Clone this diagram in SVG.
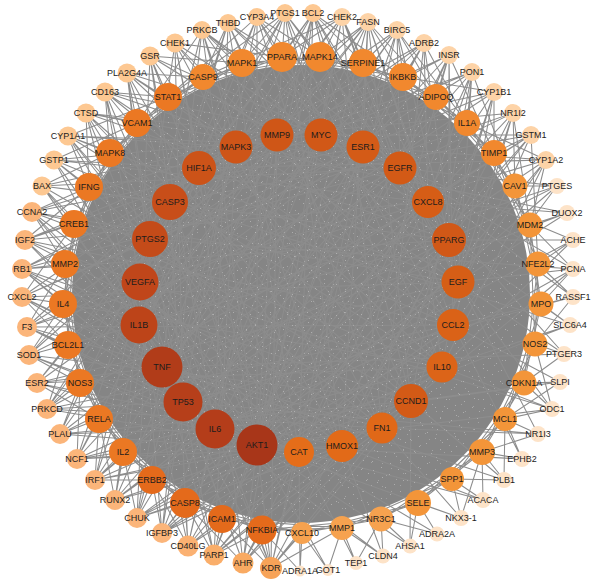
<svg xmlns="http://www.w3.org/2000/svg" width="600" height="584" viewBox="0 0 600 584">
<style>
.e{fill:none;stroke:#8d8d8d;stroke-width:1.05;stroke-linejoin:bevel}
text{font-family:"Liberation Sans",Arial,Helvetica,sans-serif;font-size:9px;fill:#1c1c1c;text-anchor:middle}
.o1{fill:#fbb57a}.o2{fill:#fdc892}.o2b{fill:#fdd3a7}.o3{fill:#fde3c8}
.m1{fill:#e46a1b}.m2{fill:#eb7823}.m3{fill:#f1882e}.m4{fill:#f39539}.m5{fill:#f6a24f}
</style>
<defs>
<pattern id="sp1" width="37" height="31" patternUnits="userSpaceOnUse"><path d="M3 5h1v1h-1zM11 2h1v1h-1zM19 9h1v1h-1zM28 4h1v1h-1zM33 15h1v1h-1zM7 17h1v1h-1zM15 22h1v1h-1zM24 19h1v1h-1zM30 26h1v1h-1zM2 27h1v1h-1zM20 29h1v1h-1zM12 12h1v1h-1zM35 8h1v1h-1z" fill="#c8c8c8"/></pattern>
<pattern id="sp2" width="29" height="23" patternUnits="userSpaceOnUse"><path d="M5 3h1v1h-1zM14 8h1v1h-1zM23 2h1v1h-1zM9 15h1v1h-1zM19 19h1v1h-1zM26 13h1v1h-1zM1 20h1v1h-1z" fill="#c0c0c0"/></pattern>
</defs>
<rect width="600" height="584" fill="#ffffff"/>
<circle cx="301" cy="294" r="229" fill="#858585"/>
<g id="edges" class="e">
<path d="M282 57L363 63 436 97 494 153 530 225 541 304 524 383 482 452 418 503 342 528 262 530 185 503 123 452 80 383 63 304 74 224 110 153 168 97 242 63 320 57 403 77 467 123 515 186 538 264 535 344 505 419 452 479 381 519 302 533 222 519 152 480 99 419 68 345 65 264 89 187 137 123 203 77 282 57"/>
<path d="M282 57L403 77 494 153 538 264 524 383 452 479 342 528 222 519 123 452 68 345 74 224 137 123 242 63 363 63 467 123 530 225 535 344 482 452 381 519 262 530 152 480 80 383 65 264 110 153 203 77 320 57 436 97 515 186 541 304 505 419 418 503 302 533 185 503 99 419 63 304 89 187 168 97 282 57"/>
<path d="M285 13L257 445 285 13 162 367 285 13 140 282 285 13 170 202 285 13 321 135 285 13 400 168 285 13 449 240 285 13 442 367 285 13 342 446 285 13 242 63 285 13 320 57 285 13 168 97"/>
<path d="M313 13L257 445 313 13 215 429 313 13 139 325 313 13 150 239 313 13 199 168 313 13 277 135 313 13 363 147 313 13 428 202 313 13 458 282 313 13 411 401 313 13 299 452 313 13 282 57 313 13 363 63 313 13 403 77"/>
<path d="M342 17L257 445 342 17 162 367 342 17 140 282 342 17 236 147 342 17 321 135 342 17 400 168 342 17 449 240 342 17 453 325 342 17 382 428 342 17 282 57 342 17 363 63 342 17 203 77"/>
<path d="M368 22L257 445 368 22 183 402 368 22 139 325 368 22 170 202 368 22 277 135 368 22 363 147 368 22 428 202 368 22 458 282 368 22 411 401 368 22 342 446 368 22 320 57 368 22 403 77 368 22 436 97"/>
<path d="M397 30L257 445 397 30 162 367 397 30 140 282 397 30 199 168 397 30 321 135 397 30 400 168 397 30 449 240 397 30 442 367 397 30 299 452 397 30 363 63 397 30 436 97 397 30 467 123"/>
<path d="M424 43L215 429 424 43 139 325 424 43 150 239 424 43 236 147 424 43 363 147 424 43 428 202 424 43 458 282 424 43 382 428 424 43 403 77 424 43 467 123"/>
<path d="M449 55L257 445 449 55 162 367 449 55 170 202 449 55 277 135 449 55 400 168 449 55 449 240 449 55 453 325 449 55 342 446 449 55 436 97 449 55 494 153"/>
<path d="M472 72L183 402 472 72 140 282 472 72 199 168 472 72 321 135 472 72 428 202 472 72 458 282 472 72 411 401 472 72 299 452 472 72 467 123 472 72 515 186"/>
<path d="M494 92L257 445 494 92 139 325 494 92 236 147 494 92 363 147 494 92 449 240 494 92 442 367 494 92 382 428 494 92 494 153 494 92 403 77"/>
<path d="M513 113L215 429 513 113 150 239 513 113 277 135 513 113 400 168 513 113 458 282 513 113 453 325 513 113 342 446 513 113 515 186 513 113 530 225"/>
<path d="M531 135L257 445 531 135 162 367 531 135 170 202 531 135 321 135 531 135 428 202 531 135 449 240 531 135 411 401 531 135 494 153 531 135 538 264"/>
<path d="M546 160L183 402 546 160 140 282 546 160 199 168 546 160 363 147 546 160 458 282 546 160 442 367 546 160 299 452 546 160 530 225 546 160 467 123"/>
<path d="M557 186L257 445 557 186 139 325 557 186 400 168 557 186 449 240 557 186 453 325 557 186 515 186"/>
<path d="M567 213L162 367 567 213 236 147 567 213 428 202 567 213 458 282 567 213 530 225"/>
<path d="M573 240L215 429 573 240 321 135 573 240 449 240 573 240 442 367 573 240 538 264"/>
<path d="M573 269L257 445 573 269 150 239 573 269 363 147 573 269 458 282 573 269 411 401 573 269 541 304 573 269 530 225"/>
<path d="M573 297L183 402 573 297 400 168 573 297 453 325 573 297 538 264 573 297 535 344"/>
<path d="M570 325L257 445 570 325 170 202 570 325 449 240 570 325 442 367 570 325 541 304"/>
<path d="M564 354L162 367 564 354 428 202 564 354 458 282 564 354 535 344 564 354 524 383"/>
<path d="M560 382L215 429 560 382 453 325 560 382 411 401 560 382 524 383 560 382 505 419"/>
<path d="M552 409L257 445 552 409 140 282 552 409 458 282 552 409 442 367 552 409 505 419 552 409 524 383 552 409 535 344"/>
<path d="M538 434L183 402 538 434 400 168 538 434 382 428 538 434 505 419 538 434 482 452"/>
<path d="M522 459L257 445 522 459 453 325 522 459 482 452 522 459 505 419"/>
<path d="M504 480L162 367 504 480 411 401 504 480 482 452 504 480 452 479 504 480 505 419"/>
<path d="M483 500L215 429 483 500 342 446 483 500 452 479 483 500 482 452"/>
<path d="M461 518L257 445 461 518 382 428 461 518 418 503 461 518 452 479 461 518 482 452"/>
<path d="M437 534L299 452 437 534 418 503 437 534 381 519"/>
<path d="M410 546L257 445 410 546 411 401 410 546 418 503 410 546 381 519"/>
<path d="M383 556L215 429 383 556 342 446 383 556 381 519 383 556 342 528"/>
<path d="M356 563L299 452 356 563 342 528 356 563 381 519"/>
<path d="M328 570L342 528 328 570 302 533 328 570 257 445"/>
<path d="M300 571L302 533 300 571 262 530 300 571 299 452"/>
<path d="M271 568L257 445 271 568 215 429 271 568 162 367 271 568 139 325 271 568 150 239 271 568 277 135 271 568 363 147 271 568 449 240 271 568 442 367 271 568 382 428 271 568 299 452 271 568 262 530 271 568 222 519 271 568 302 533 271 568 342 528"/>
<path d="M243 563L257 445 243 563 183 402 243 563 140 282 243 563 199 168 243 563 321 135 243 563 428 202 243 563 453 325 243 563 411 401 243 563 342 446 243 563 262 530 243 563 185 503"/>
<path d="M214 555L257 445 214 555 162 367 214 555 150 239 214 555 236 147 214 555 363 147 214 555 458 282 214 555 442 367 214 555 382 428 214 555 299 452 214 555 222 519 214 555 262 530 214 555 185 503"/>
<path d="M188 546L215 429 188 546 139 325 188 546 170 202 188 546 277 135 188 546 400 168 188 546 449 240 188 546 411 401 188 546 342 446 188 546 185 503 188 546 152 480 188 546 222 519"/>
<path d="M162 533L257 445 162 533 183 402 162 533 140 282 162 533 199 168 162 533 321 135 162 533 428 202 162 533 453 325 162 533 382 428 162 533 299 452 162 533 152 480 162 533 185 503"/>
<path d="M137 518L257 445 137 518 162 367 137 518 150 239 137 518 236 147 137 518 363 147 137 518 458 282 137 518 442 367 137 518 342 446 137 518 123 452 137 518 152 480 137 518 185 503"/>
<path d="M115 500L215 429 115 500 139 325 115 500 170 202 115 500 277 135 115 500 400 168 115 500 449 240 115 500 411 401 115 500 299 452 115 500 123 452 115 500 99 419"/>
<path d="M95 480L257 445 95 480 183 402 95 480 140 282 95 480 199 168 95 480 321 135 95 480 428 202 95 480 453 325 95 480 382 428 95 480 152 480 95 480 123 452 95 480 99 419"/>
<path d="M77 459L257 445 77 459 162 367 77 459 150 239 77 459 236 147 77 459 363 147 77 459 458 282 77 459 442 367 77 459 342 446 77 459 99 419 77 459 80 383 77 459 123 452"/>
<path d="M60 434L215 429 60 434 139 325 60 434 170 202 60 434 277 135 60 434 400 168 60 434 449 240 60 434 411 401 60 434 299 452 60 434 80 383 60 434 99 419"/>
<path d="M47 409L257 445 47 409 183 402 47 409 140 282 47 409 199 168 47 409 321 135 47 409 428 202 47 409 453 325 47 409 382 428 47 409 68 345 47 409 80 383"/>
<path d="M37 383L257 445 37 383 162 367 37 383 150 239 37 383 236 147 37 383 363 147 37 383 458 282 37 383 442 367 37 383 342 446 37 383 68 345 37 383 99 419"/>
<path d="M29 355L215 429 29 355 139 325 29 355 170 202 29 355 277 135 29 355 400 168 29 355 449 240 29 355 411 401 29 355 299 452 29 355 63 304 29 355 80 383"/>
<path d="M27 327L257 445 27 327 183 402 27 327 140 282 27 327 199 168 27 327 321 135 27 327 428 202 27 327 453 325 27 327 382 428 27 327 68 345 27 327 65 264"/>
<path d="M22 297L257 445 22 297 162 367 22 297 150 239 22 297 236 147 22 297 363 147 22 297 458 282 22 297 442 367 22 297 342 446 22 297 63 304 22 297 74 224 22 297 68 345"/>
<path d="M22 269L215 429 22 269 139 325 22 269 170 202 22 269 277 135 22 269 400 168 22 269 449 240 22 269 411 401 22 269 299 452 22 269 65 264 22 269 63 304"/>
<path d="M25 240L257 445 25 240 183 402 25 240 140 282 25 240 199 168 25 240 321 135 25 240 428 202 25 240 453 325 25 240 382 428 25 240 74 224 25 240 89 187"/>
<path d="M32 212L257 445 32 212 162 367 32 212 150 239 32 212 236 147 32 212 363 147 32 212 458 282 32 212 442 367 32 212 342 446 32 212 65 264 32 212 89 187"/>
<path d="M42 186L215 429 42 186 139 325 42 186 170 202 42 186 277 135 42 186 400 168 42 186 449 240 42 186 411 401 42 186 299 452 42 186 74 224 42 186 110 153"/>
<path d="M54 160L257 445 54 160 183 402 54 160 140 282 54 160 199 168 54 160 321 135 54 160 428 202 54 160 453 325 54 160 382 428 54 160 89 187 54 160 137 123"/>
<path d="M68 136L257 445 68 136 162 367 68 136 150 239 68 136 236 147 68 136 363 147 68 136 458 282 68 136 442 367 68 136 342 446 68 136 110 153 68 136 168 97"/>
<path d="M86 113L215 429 86 113 139 325 86 113 170 202 86 113 277 135 86 113 400 168 86 113 449 240 86 113 411 401 86 113 299 452 86 113 137 123 86 113 89 187"/>
<path d="M105 92L257 445 105 92 183 402 105 92 140 282 105 92 199 168 105 92 321 135 105 92 428 202 105 92 453 325 105 92 382 428 105 92 168 97 105 92 110 153"/>
<path d="M127 73L257 445 127 73 162 367 127 73 150 239 127 73 236 147 127 73 363 147 127 73 458 282 127 73 442 367 127 73 342 446 127 73 203 77 127 73 137 123"/>
<path d="M150 56L215 429 150 56 139 325 150 56 170 202 150 56 277 135 150 56 400 168 150 56 449 240 150 56 411 401 150 56 299 452 150 56 242 63 150 56 168 97"/>
<path d="M175 43L257 445 175 43 183 402 175 43 140 282 175 43 199 168 175 43 321 135 175 43 428 202 175 43 453 325 175 43 382 428 175 43 203 77 175 43 282 57"/>
<path d="M202 30L257 445 202 30 162 367 202 30 150 239 202 30 236 147 202 30 363 147 202 30 458 282 202 30 442 367 202 30 342 446 202 30 242 63 202 30 137 123"/>
<path d="M228 23L215 429 228 23 139 325 228 23 170 202 228 23 277 135 228 23 400 168 228 23 449 240 228 23 411 401 228 23 299 452 228 23 282 57 228 23 203 77"/>
<path d="M257 17L257 445 257 17 183 402 257 17 140 282 257 17 199 168 257 17 321 135 257 17 428 202 257 17 453 325 257 17 382 428 257 17 320 57 257 17 168 97"/>
</g>
<circle cx="301" cy="294" r="222" fill="url(#sp1)" opacity="0.6"/>
<circle cx="301" cy="294" r="222" fill="url(#sp2)" opacity="0.5"/>
<g id="outer-ring">
<g id="n-PTGS1"><circle class="o2" cx="285" cy="13" r="9"/><text x="285" y="16">PTGS1</text></g>
<g id="n-BCL2"><circle class="o2" cx="313" cy="13" r="9"/><text x="313" y="16">BCL2</text></g>
<g id="n-CHEK2"><circle class="o2b" cx="342" cy="17" r="9"/><text x="342" y="20">CHEK2</text></g>
<g id="n-FASN"><circle class="o2b" cx="368" cy="22" r="9"/><text x="368" y="25">FASN</text></g>
<g id="n-BIRC5"><circle class="o2b" cx="397" cy="30" r="9"/><text x="397" y="33">BIRC5</text></g>
<g id="n-ADRB2"><circle class="o2b" cx="424" cy="43" r="9"/><text x="424" y="46">ADRB2</text></g>
<g id="n-INSR"><circle class="o2b" cx="449" cy="55" r="9"/><text x="449" y="58">INSR</text></g>
<g id="n-PON1"><circle class="o2b" cx="472" cy="72" r="9"/><text x="472" y="75">PON1</text></g>
<g id="n-CYP1B1"><circle class="o2b" cx="494" cy="92" r="9"/><text x="494" y="95">CYP1B1</text></g>
<g id="n-NR1I2"><circle class="o2b" cx="513" cy="113" r="9"/><text x="513" y="116">NR1I2</text></g>
<g id="n-GSTM1"><circle class="o2b" cx="531" cy="135" r="9"/><text x="531" y="138">GSTM1</text></g>
<g id="n-CYP1A2"><circle class="o2b" cx="546" cy="160" r="9"/><text x="546" y="163">CYP1A2</text></g>
<g id="n-PTGES"><circle class="o3" cx="557" cy="186" r="8"/><text x="557" y="189">PTGES</text></g>
<g id="n-DUOX2"><circle class="o3" cx="567" cy="213" r="8"/><text x="567" y="216">DUOX2</text></g>
<g id="n-ACHE"><circle class="o3" cx="573" cy="240" r="8"/><text x="573" y="243">ACHE</text></g>
<g id="n-PCNA"><circle class="o3" cx="573" cy="269" r="8"/><text x="573" y="272">PCNA</text></g>
<g id="n-RASSF1"><circle class="o3" cx="573" cy="297" r="8"/><text x="573" y="300">RASSF1</text></g>
<g id="n-SLC6A4"><circle class="o3" cx="570" cy="325" r="8"/><text x="570" y="328">SLC6A4</text></g>
<g id="n-PTGER3"><circle class="o3" cx="564" cy="354" r="8"/><text x="564" y="357">PTGER3</text></g>
<g id="n-SLPI"><circle class="o3" cx="560" cy="382" r="8"/><text x="560" y="385">SLPI</text></g>
<g id="n-ODC1"><circle class="o3" cx="552" cy="409" r="8"/><text x="552" y="412">ODC1</text></g>
<g id="n-NR1I3"><circle class="o3" cx="538" cy="434" r="8"/><text x="538" y="437">NR1I3</text></g>
<g id="n-EPHB2"><circle class="o3" cx="522" cy="459" r="8"/><text x="522" y="462">EPHB2</text></g>
<g id="n-PLB1"><circle class="o3" cx="504" cy="480" r="8"/><text x="504" y="483">PLB1</text></g>
<g id="n-ACACA"><circle class="o3" cx="483" cy="500" r="8"/><text x="483" y="503">ACACA</text></g>
<g id="n-NKX3-1"><circle class="o3" cx="461" cy="518" r="8"/><text x="461" y="521">NKX3-1</text></g>
<g id="n-ADRA2A"><circle class="o3" cx="437" cy="534" r="7.5"/><text x="437" y="537">ADRA2A</text></g>
<g id="n-AHSA1"><circle class="o3" cx="410" cy="546" r="7.5"/><text x="410" y="549">AHSA1</text></g>
<g id="n-CLDN4"><circle class="o3" cx="383" cy="556" r="7.5"/><text x="383" y="559">CLDN4</text></g>
<g id="n-TEP1"><circle class="o3" cx="356" cy="563" r="7"/><text x="356" y="566">TEP1</text></g>
<g id="n-GOT1"><circle class="o3" cx="328" cy="570" r="6"/><text x="328" y="573">GOT1</text></g>
<g id="n-ADRA1A"><circle class="o3" cx="300" cy="571" r="5.5"/><text x="300" y="574">ADRA1A</text></g>
<g id="n-KDR"><circle cx="271" cy="568" r="11" fill="#f7a358"/><text x="271" y="571">KDR</text></g>
<g id="n-AHR"><circle cx="243" cy="563" r="10.5" fill="#f9aa62"/><text x="243" y="566">AHR</text></g>
<g id="n-PARP1"><circle cx="214" cy="555" r="10.5" fill="#faae6a"/><text x="214" y="558">PARP1</text></g>
<g id="n-CD40LG"><circle cx="188" cy="546" r="10.5" fill="#fbb172"/><text x="188" y="549">CD40LG</text></g>
<g id="n-IGFBP3"><circle class="o1" cx="162" cy="533" r="10"/><text x="162" y="536">IGFBP3</text></g>
<g id="n-CHUK"><circle class="o1" cx="137" cy="518" r="10"/><text x="137" y="521">CHUK</text></g>
<g id="n-RUNX2"><circle class="o1" cx="115" cy="500" r="10"/><text x="115" y="503">RUNX2</text></g>
<g id="n-IRF1"><circle class="o1" cx="95" cy="480" r="10"/><text x="95" y="483">IRF1</text></g>
<g id="n-NCF1"><circle class="o1" cx="77" cy="459" r="10"/><text x="77" y="462">NCF1</text></g>
<g id="n-PLAU"><circle class="o1" cx="60" cy="434" r="10"/><text x="60" y="437">PLAU</text></g>
<g id="n-PRKCD"><circle class="o1" cx="47" cy="409" r="10"/><text x="47" y="412">PRKCD</text></g>
<g id="n-ESR2"><circle class="o1" cx="37" cy="383" r="10"/><text x="37" y="386">ESR2</text></g>
<g id="n-SOD1"><circle class="o1" cx="29" cy="355" r="10"/><text x="29" y="358">SOD1</text></g>
<g id="n-F3"><circle class="o1" cx="27" cy="327" r="10"/><text x="27" y="330">F3</text></g>
<g id="n-CXCL2"><circle class="o1" cx="22" cy="297" r="10"/><text x="22" y="300">CXCL2</text></g>
<g id="n-RB1"><circle class="o1" cx="22" cy="269" r="10"/><text x="22" y="272">RB1</text></g>
<g id="n-IGF2"><circle class="o1" cx="25" cy="240" r="10"/><text x="25" y="243">IGF2</text></g>
<g id="n-CCNA2"><circle class="o1" cx="32" cy="212" r="10"/><text x="32" y="215">CCNA2</text></g>
<g id="n-BAX"><circle class="o2" cx="42" cy="186" r="9.5"/><text x="42" y="189">BAX</text></g>
<g id="n-GSTP1"><circle class="o2" cx="54" cy="160" r="9.5"/><text x="54" y="163">GSTP1</text></g>
<g id="n-CYP1A1"><circle class="o2" cx="68" cy="136" r="9.5"/><text x="68" y="139">CYP1A1</text></g>
<g id="n-CTSD"><circle class="o2" cx="86" cy="113" r="9.5"/><text x="86" y="116">CTSD</text></g>
<g id="n-CD163"><circle class="o2" cx="105" cy="92" r="9.5"/><text x="105" y="95">CD163</text></g>
<g id="n-PLA2G4A"><circle class="o2" cx="127" cy="73" r="9.5"/><text x="127" y="76">PLA2G4A</text></g>
<g id="n-GSR"><circle class="o2" cx="150" cy="56" r="9.5"/><text x="150" y="59">GSR</text></g>
<g id="n-CHEK1"><circle class="o2" cx="175" cy="43" r="9.5"/><text x="175" y="46">CHEK1</text></g>
<g id="n-PRKCB"><circle class="o2" cx="202" cy="30" r="9"/><text x="202" y="33">PRKCB</text></g>
<g id="n-THBD"><circle class="o2" cx="228" cy="23" r="9"/><text x="228" y="26">THBD</text></g>
<g id="n-CYP3A4"><circle class="o2" cx="257" cy="17" r="9"/><text x="257" y="20">CYP3A4</text></g>
</g>
<g id="middle-ring">
<g id="n-PPARA"><circle class="m3" cx="282" cy="57" r="15"/><text x="282" y="60">PPARA</text></g>
<g id="n-MAPK14"><circle class="m3" cx="320" cy="57" r="15"/><text x="320" y="60">MAPK14</text></g>
<g id="n-SERPINE1"><circle class="m3" cx="363" cy="63" r="14"/><text x="363" y="66">SERPINE1</text></g>
<g id="n-IKBKB"><circle class="m3" cx="403" cy="77" r="14"/><text x="403" y="80">IKBKB</text></g>
<g id="n-ADIPOQ"><circle class="m3" cx="436" cy="97" r="13"/><text x="436" y="100">ADIPOQ</text></g>
<g id="n-IL1A"><circle class="m3" cx="467" cy="123" r="13"/><text x="467" y="126">IL1A</text></g>
<g id="n-TIMP1"><circle class="m3" cx="494" cy="153" r="13"/><text x="494" y="156">TIMP1</text></g>
<g id="n-CAV1"><circle class="m4" cx="515" cy="186" r="12.5"/><text x="515" y="189">CAV1</text></g>
<g id="n-MDM2"><circle class="m4" cx="530" cy="225" r="12.5"/><text x="530" y="228">MDM2</text></g>
<g id="n-NFE2L2"><circle class="m4" cx="538" cy="264" r="12.5"/><text x="538" y="267">NFE2L2</text></g>
<g id="n-MPO"><circle class="m4" cx="541" cy="304" r="12.5"/><text x="541" y="307">MPO</text></g>
<g id="n-NOS2"><circle class="m4" cx="535" cy="344" r="12.5"/><text x="535" y="347">NOS2</text></g>
<g id="n-CDKN1A"><circle class="m4" cx="524" cy="383" r="12.5"/><text x="524" y="386">CDKN1A</text></g>
<g id="n-MCL1"><circle class="m4" cx="505" cy="419" r="12"/><text x="505" y="422">MCL1</text></g>
<g id="n-MMP3"><circle class="m4" cx="482" cy="452" r="13"/><text x="482" y="455">MMP3</text></g>
<g id="n-SPP1"><circle class="m4" cx="452" cy="479" r="12"/><text x="452" y="482">SPP1</text></g>
<g id="n-SELE"><circle class="m4" cx="418" cy="503" r="13"/><text x="418" y="506">SELE</text></g>
<g id="n-NR3C1"><circle class="m5" cx="381" cy="519" r="12.5"/><text x="381" y="522">NR3C1</text></g>
<g id="n-MMP1"><circle class="m5" cx="342" cy="528" r="12"/><text x="342" y="531">MMP1</text></g>
<g id="n-CXCL10"><circle class="m5" cx="302" cy="533" r="11"/><text x="302" y="536">CXCL10</text></g>
<g id="n-NFKBIA"><circle class="m1" cx="262" cy="530" r="14.5"/><text x="262" y="533">NFKBIA</text></g>
<g id="n-ICAM1"><circle class="m1" cx="222" cy="519" r="14"/><text x="222" y="522">ICAM1</text></g>
<g id="n-CASP8"><circle class="m1" cx="185" cy="503" r="15"/><text x="185" y="506">CASP8</text></g>
<g id="n-ERBB2"><circle class="m1" cx="152" cy="480" r="14"/><text x="152" y="483">ERBB2</text></g>
<g id="n-IL2"><circle class="m2" cx="123" cy="452" r="14"/><text x="123" y="455">IL2</text></g>
<g id="n-RELA"><circle class="m2" cx="99" cy="419" r="14"/><text x="99" y="422">RELA</text></g>
<g id="n-NOS3"><circle class="m2" cx="80" cy="383" r="14"/><text x="80" y="386">NOS3</text></g>
<g id="n-BCL2L1"><circle class="m2" cx="68" cy="345" r="14"/><text x="68" y="348">BCL2L1</text></g>
<g id="n-IL4"><circle class="m2" cx="63" cy="304" r="14"/><text x="63" y="307">IL4</text></g>
<g id="n-MMP2"><circle class="m2" cx="65" cy="264" r="14"/><text x="65" y="267">MMP2</text></g>
<g id="n-CREB1"><circle class="m2" cx="74" cy="224" r="14"/><text x="74" y="227">CREB1</text></g>
<g id="n-IFNG"><circle class="m2" cx="89" cy="187" r="14"/><text x="89" y="190">IFNG</text></g>
<g id="n-MAPK8"><circle class="m2" cx="110" cy="153" r="14"/><text x="110" y="156">MAPK8</text></g>
<g id="n-VCAM1"><circle class="m2" cx="137" cy="123" r="14"/><text x="137" y="126">VCAM1</text></g>
<g id="n-STAT1"><circle class="m2" cx="168" cy="97" r="14"/><text x="168" y="100">STAT1</text></g>
<g id="n-CASP9"><circle class="m3" cx="203" cy="77" r="13"/><text x="203" y="80">CASP9</text></g>
<g id="n-MAPK1"><circle class="m3" cx="242" cy="63" r="14"/><text x="242" y="66">MAPK1</text></g>
</g>
<g id="inner-ring">
<g id="n-MMP9"><circle cx="277" cy="135" r="16.5" fill="#cf5617"/><text x="277" y="138">MMP9</text></g>
<g id="n-MYC"><circle cx="321" cy="135" r="16.5" fill="#d15817"/><text x="321" y="138">MYC</text></g>
<g id="n-ESR1"><circle cx="363" cy="147" r="16.5" fill="#d45b17"/><text x="363" y="150">ESR1</text></g>
<g id="n-EGFR"><circle cx="400" cy="168" r="16.5" fill="#d35a16"/><text x="400" y="171">EGFR</text></g>
<g id="n-CXCL8"><circle cx="428" cy="202" r="16" fill="#d65d16"/><text x="428" y="205">CXCL8</text></g>
<g id="n-PPARG"><circle cx="449" cy="240" r="17" fill="#d15817"/><text x="449" y="243">PPARG</text></g>
<g id="n-EGF"><circle cx="458" cy="282" r="16.5" fill="#d65e16"/><text x="458" y="285">EGF</text></g>
<g id="n-CCL2"><circle cx="453" cy="325" r="16" fill="#da6217"/><text x="453" y="328">CCL2</text></g>
<g id="n-IL10"><circle cx="442" cy="367" r="15.5" fill="#dc6418"/><text x="442" y="370">IL10</text></g>
<g id="n-CCND1"><circle cx="411" cy="401" r="17" fill="#d35a16"/><text x="411" y="404">CCND1</text></g>
<g id="n-FN1"><circle cx="382" cy="428" r="15.5" fill="#e06818"/><text x="382" y="431">FN1</text></g>
<g id="n-HMOX1"><circle cx="342" cy="446" r="16" fill="#e26a18"/><text x="342" y="449">HMOX1</text></g>
<g id="n-CAT"><circle cx="299" cy="452" r="15" fill="#e56d19"/><text x="299" y="455">CAT</text></g>
<g id="n-AKT1"><circle cx="257" cy="445" r="20.5" fill="#a83619"/><text x="257" y="448">AKT1</text></g>
<g id="n-IL6"><circle cx="215" cy="429" r="19.5" fill="#b43d1a"/><text x="215" y="432">IL6</text></g>
<g id="n-TP53"><circle cx="183" cy="402" r="19.5" fill="#b63f1a"/><text x="183" y="405">TP53</text></g>
<g id="n-TNF"><circle cx="162" cy="367" r="20.5" fill="#b13c19"/><text x="162" y="370">TNF</text></g>
<g id="n-IL1B"><circle cx="139" cy="325" r="18.5" fill="#bd4419"/><text x="139" y="328">IL1B</text></g>
<g id="n-VEGFA"><circle cx="140" cy="282" r="18.5" fill="#c0461a"/><text x="140" y="285">VEGFA</text></g>
<g id="n-PTGS2"><circle cx="150" cy="239" r="18" fill="#c44b19"/><text x="150" y="242">PTGS2</text></g>
<g id="n-CASP3"><circle cx="170" cy="202" r="18" fill="#c84e19"/><text x="170" y="205">CASP3</text></g>
<g id="n-HIF1A"><circle cx="199" cy="168" r="17" fill="#cc5318"/><text x="199" y="171">HIF1A</text></g>
<g id="n-MAPK3"><circle cx="236" cy="147" r="16.5" fill="#ce5518"/><text x="236" y="150">MAPK3</text></g>
</g>
</svg>
